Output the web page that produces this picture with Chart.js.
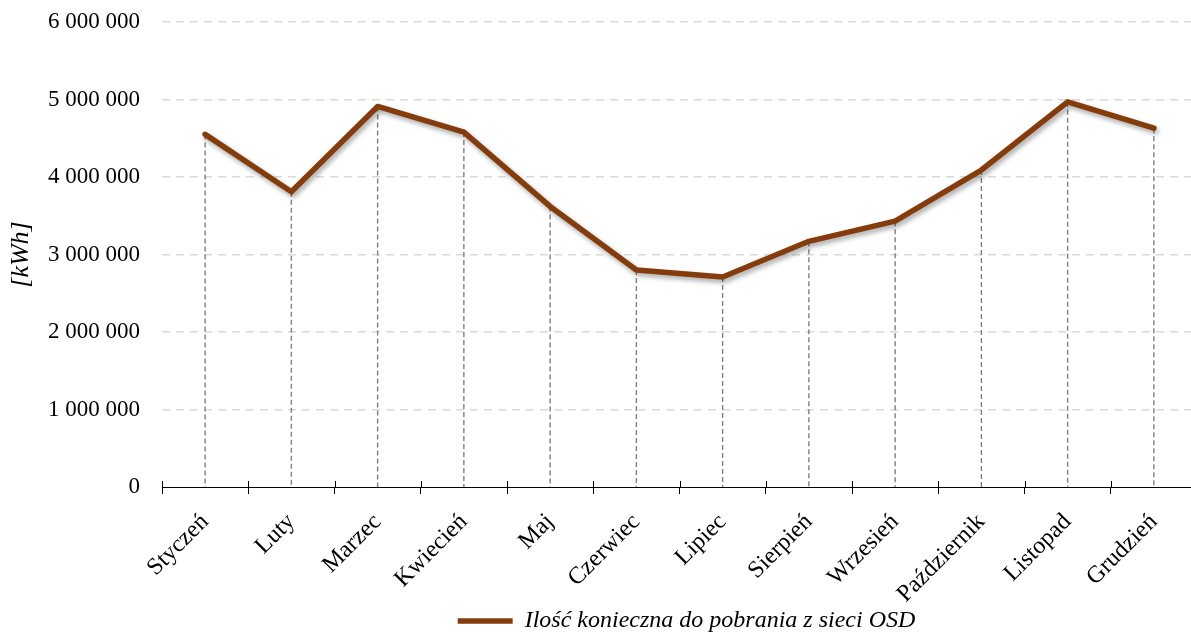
<!DOCTYPE html>
<html>
<head>
<meta charset="utf-8">
<script src="https://cdn.jsdelivr.net/npm/chart.js@4"></script>
<style>
  html, body { margin: 0; padding: 0; background: #fff; overflow: hidden; }
  #wrap { position: relative; width: 1198px; height: 635px; }
</style>
</head>
<body>
<div id="wrap"><canvas id="c"></canvas></div>
<script>
const categories = ['Styczeń','Luty','Marzec','Kwiecień','Maj','Czerwiec','Lipiec','Sierpień','Wrzesień','Październik','Listopad','Grudzień'];
const values = [4550000, 3810000, 4910000, 4580000, 3620000, 2800000, 2710000, 3170000, 3430000, 4090000, 4970000, 4630000];
const seriesName = 'Ilość konieczna do pobrania z sieci OSD';
const yAxisTitle = '[kWh]';
const yMin = 0, yMax = 6000000, yStep = 1000000;

const FONT = "'Liberation Serif', 'Times New Roman', serif";
const fmt = v => String(v).replace(/\B(?=(\d{3})+(?!\d))/g, ' ');

const dropLines = {
  id: 'dropLines',
  afterLayout(chart) {
    if (chart.legend) { chart.legend.left += 7; chart.legend.right += 7; }
  },
  beforeDatasetsDraw(chart) {
    const ctx = chart.ctx, ys = chart.scales.y;
    const meta = chart.getDatasetMeta(0);
    const y0 = ys.getPixelForValue(0);
    ctx.save();
    ctx.strokeStyle = '#7f7f7f';
    ctx.lineWidth = 1.4;
    ctx.setLineDash([5, 3]);
    meta.data.forEach(pt => {
      ctx.beginPath();
      ctx.moveTo(pt.x, pt.y);
      ctx.lineTo(pt.x, y0);
      ctx.stroke();
    });
    ctx.restore();
  },
  afterDraw(chart) {
    const ctx = chart.ctx, xs = chart.scales.x, ys = chart.scales.y;
    const y0 = ys.getPixelForValue(0);
    ctx.save();
    ctx.strokeStyle = '#000';
    ctx.lineWidth = 1;
    for (let i = 0; i <= categories.length; i++) {
      const x = Math.round(xs.getPixelForValue(i - 0.5)) + 0.5;
      ctx.beginPath();
      ctx.moveTo(x, y0 - 6);
      ctx.lineTo(x, y0);
      ctx.stroke();
    }
    ctx.restore();
  }
};

const shadow = {
  id: 'lineShadow',
  beforeDatasetDraw(chart) {
    const ctx = chart.ctx;
    ctx.save();
    ctx.shadowColor = 'rgba(0,0,0,0.35)';
    ctx.shadowBlur = 5;
    ctx.shadowOffsetX = 2;
    ctx.shadowOffsetY = 3;
  },
  afterDatasetDraw(chart) {
    chart.ctx.restore();
  }
};

new Chart(document.getElementById('c'), {
  type: 'line',
  data: {
    labels: categories,
    datasets: [{
      label: seriesName,
      data: values,
      borderColor: '#843C0C',
      backgroundColor: '#843C0C',
      borderWidth: 5.5,
      pointRadius: 0,
      pointHoverRadius: 0,
      tension: 0,
      borderCapStyle: 'round',
      borderJoinStyle: 'round',
      fill: false
    }]
  },
  options: {
    responsive: true,
    maintainAspectRatio: false,
    animation: false,
    layout: { padding: { top: 22, right: 1, left: 0, bottom: -8 } },
    plugins: {
      tooltip: { enabled: false },
      legend: {
        position: 'bottom',
        fullSize: false,
        labels: {
          usePointStyle: true,
          pointStyle: 'line',
          pointStyleWidth: 55,
          color: '#000',
          padding: 4,
          font: { family: FONT, size: 24, style: 'italic' }
        }
      }
    },
    scales: {
      x: {
        type: 'category',
        offset: true,
        grid: { offset: true, drawOnChartArea: false, drawTicks: true, tickLength: 7, color: '#000', lineWidth: 1 },
        border: { display: true, color: '#000', width: 1 },
        ticks: {
          autoSkip: false, minRotation: 45, maxRotation: 45, padding: 14,
          color: '#000', font: { family: FONT, size: 24 }
        },
        afterFit: s => { s.height = 118; s.paddingTop = 0; s.paddingBottom = 0; }
      },
      y: {
        min: yMin, max: yMax,
        ticks: {
          stepSize: yStep, padding: 22, color: '#000',
          font: { family: FONT, size: 23 },
          callback: v => fmt(v)
        },
        grid: {
          drawTicks: false,
          lineWidth: 1.5,
          color: ctx => ctx.tick && ctx.tick.value === 0 ? 'rgba(0,0,0,0)' : '#d9d9d9'
        },
        border: { display: false, dash: [8, 6] },
        title: {
          display: true, text: yAxisTitle, color: '#000',
          font: { family: FONT, size: 26, style: 'italic' },
          padding: { top: 6, bottom: 0 }
        },
        afterFit: s => { s.width = 162; s.paddingTop = 0; s.paddingBottom = 0; }
      }
    }
  },
  plugins: [dropLines, shadow]
});
</script>
</body>
</html>
